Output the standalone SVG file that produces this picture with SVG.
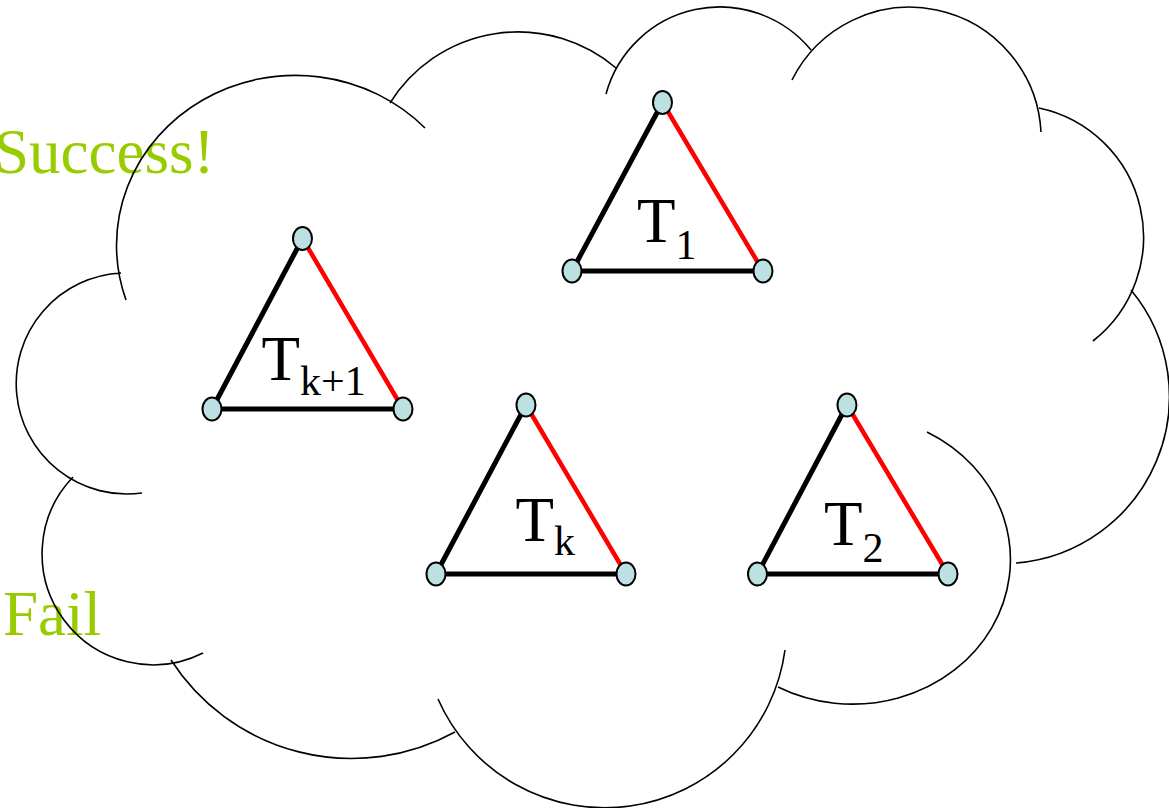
<svg xmlns="http://www.w3.org/2000/svg" width="1169" height="808" viewBox="0 0 1169 808">
<defs>
<style>
.bg{fill:#ffffff}
.note{font-family:"Liberation Serif","Times New Roman",serif;font-size:63px;fill:#99CC00}
.cloud{fill:none;stroke:#000000;stroke-width:1.6}
.blk{stroke:#000000;stroke-width:5;stroke-linecap:round;fill:none}
.red{stroke:#FF0000;stroke-width:4.5;stroke-linecap:round;fill:none}
.vtx{fill:#BDE0E3;stroke:#000000;stroke-width:2}
.lbl{font-family:"Liberation Serif","Times New Roman",serif;font-size:63px;fill:#000000}
.sub{font-size:42px}
</style>
</defs>
<rect class="bg" x="0" y="0" width="1169" height="808"/>
<g id="notes">
<text class="note" x="-6" y="173">Success!</text>
<text class="note" x="3" y="635">Fail</text>
</g>
<g id="cloud">
<path class="cloud" d="M126,300 A179,170 0 0 1 425,128
M390,103 A151,151 0 0 1 616,68
M606,94 A118,118 0 0 1 811,50
M792,80 A131.5,131.5 0 0 1 1041,132
M1039,108 A132,132 0 0 1 1093,341
M1131,290 A167,167 0 0 1 1016,563
M927,432 A155,142 0 1 1 778,687
M785,650 A182,182 0 0 1 438,699
M455,732 A215,215 0 0 1 171,660
M203,653 A111,111 0 0 1 73,477
M142,493 A110.6,110.6 0 1 1 121,273"/>
</g>
<g id="connectors">
<line class="blk" x1="662.5" y1="102.5" x2="572" y2="271"/>
<line class="blk" x1="572" y1="271" x2="763" y2="271"/>
<line class="red" x1="662.5" y1="102.5" x2="763" y2="271"/>
<line class="blk" x1="302.5" y1="238.5" x2="212" y2="409"/>
<line class="blk" x1="212" y1="409" x2="403" y2="409"/>
<line class="red" x1="302.5" y1="238.5" x2="403" y2="409"/>
<line class="blk" x1="526" y1="405" x2="436" y2="574"/>
<line class="blk" x1="436" y1="574" x2="626" y2="574"/>
<line class="red" x1="526" y1="405" x2="626" y2="574"/>
<line class="blk" x1="847" y1="405" x2="757.5" y2="574"/>
<line class="blk" x1="757.5" y1="574" x2="948" y2="574"/>
<line class="red" x1="847" y1="405" x2="948" y2="574"/>
</g>
<g id="t1-top"><ellipse class="vtx" cx="662.5" cy="102.5" rx="9.5" ry="11.5"/></g>
<g id="t1-left"><ellipse class="vtx" cx="572" cy="271" rx="9.5" ry="11.5"/></g>
<g id="t1-right"><ellipse class="vtx" cx="763" cy="271" rx="9.5" ry="11.5"/></g>
<g id="tk1-top"><ellipse class="vtx" cx="302.5" cy="238.5" rx="9.5" ry="11.5"/></g>
<g id="tk1-left"><ellipse class="vtx" cx="212" cy="409" rx="9.5" ry="11.5"/></g>
<g id="tk1-right"><ellipse class="vtx" cx="403" cy="409" rx="9.5" ry="11.5"/></g>
<g id="tk-top"><ellipse class="vtx" cx="526" cy="405" rx="9.5" ry="11.5"/></g>
<g id="tk-left"><ellipse class="vtx" cx="436" cy="574" rx="9.5" ry="11.5"/></g>
<g id="tk-right"><ellipse class="vtx" cx="626" cy="574" rx="9.5" ry="11.5"/></g>
<g id="t2-top"><ellipse class="vtx" cx="847" cy="405" rx="9.5" ry="11.5"/></g>
<g id="t2-left"><ellipse class="vtx" cx="757.5" cy="574" rx="9.5" ry="11.5"/></g>
<g id="t2-right"><ellipse class="vtx" cx="948" cy="574" rx="9.5" ry="11.5"/></g>
<g id="label-t1"><text class="lbl" x="637" y="242">T<tspan class="sub" dy="16.5">1</tspan></text></g>
<g id="label-tk1"><text class="lbl" x="261.5" y="380">T<tspan class="sub" dy="15">k+1</tspan></text></g>
<g id="label-tk"><text class="lbl" x="515.5" y="541">T<tspan class="sub" dy="14">k</tspan></text></g>
<g id="label-t2"><text class="lbl" x="824" y="545">T<tspan class="sub" dy="16.5">2</tspan></text></g>
</svg>
